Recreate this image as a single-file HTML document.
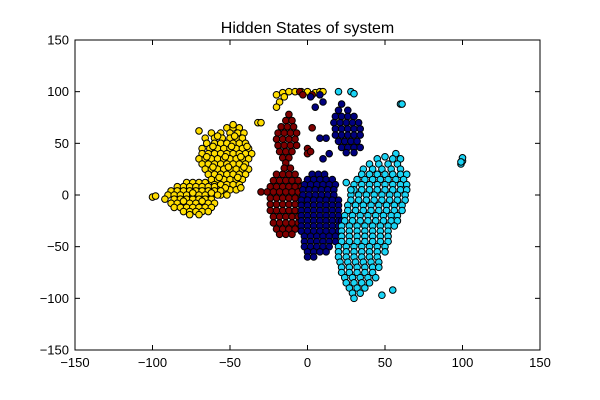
<!DOCTYPE html>
<html><head><meta charset="utf-8"><style>
html,body{margin:0;padding:0;background:#fff;}
svg{display:block;font-family:"Liberation Sans",sans-serif;}
</style></head><body>
<svg id="chart" width="600" height="400" viewBox="0 0 600 400">
<rect width="600" height="400" fill="#fff"/>
<text x="307.5" y="33" text-anchor="middle" font-size="16">Hidden States of system</text>
<g id="marks"></g>
<g id="axes"></g>
</svg>
<script>
const xTicks = [-150,-100,-50,0,50,100,150];
const yTicks = [-150,-100,-50,0,50,100,150];
// rows: [y, x1, x2, ...]
const yellowRows = [
[65,-52,-48,-44],[60,-62,-56,-50,-45,-41],[55,-66,-60,-55,-50,-46,-42],
[50,-65,-60,-56,-52,-48,-44,-40],[45,-68,-63,-58,-54,-50,-46,-42,-38],
[40,-68,-64,-60,-56,-52,-48,-44,-40,-36],[35,-70,-66,-62,-58,-54,-50,-46,-42,-38],
[30,-68,-64,-60,-56,-52,-48,-44,-40],[25,-66,-62,-58,-54,-50,-46,-42,-38],
[20,-64,-60,-56,-52,-48,-44,-40],[15,-62,-58,-54,-50,-46,-42],[10,-60,-56,-52,-48,-44],
[5,-58,-54,-50,-46],[0,-56,-52],
[57,-58,-47],[47,-61,-49,-39],[37,-65,-53,-43],[27,-61,-51,-41],[17,-57,-45],[7,-53,-43],
[12,-78,-74,-70,-66],[8,-84,-80,-76,-72,-68,-64,-60],[4,-88,-84,-80,-76,-72,-68,-64,-60,-56],
[0,-90,-86,-82,-78,-74,-70,-66,-62,-58],[-4,-92,-86,-82,-78,-74,-70,-66,-62],
[-8,-88,-84,-80,-76,-72,-68,-64,-60],[-12,-86,-82,-78,-74,-70,-66,-62],
[-16,-80,-76,-72,-68,-64],[-19,-76,-70],[-6,-80,-68],[2,-74,-62],
[-2,-100],[-1,-98],[70,-32,-30],[68,-48],[62,-70],
[97,-20],[99,-16,5],[100,-12,-8,-4,0,8,10],[90,-18],[85,-20],[95,-15]
];
const redRows = [
[78,-12],[72,-14,-10],[66,-17,-13,-9],[60,-19,-15,-11,-7],[54,-20,-16,-12,-8],
[48,-19,-15,-11,-7],[42,-18,-14,-10],[36,-16,-12],[31,-14],
[45,0],[40,0],[42,2],[65,3],[100,-5],[97,3,-3],
[26,-15,-11],[20,-20,-16,-12,-8],[14,-22,-18,-14,-10,-6],[8,-24,-20,-16,-12,-8,-4],
[3,-30,-26,-22,-18,-14,-10,-6],[-3,-24,-20,-16,-12,-8,-4],[-9,-24,-20,-16,-12,-8,-4],
[-15,-24,-20,-16,-12,-8,-4],[-21,-22,-18,-14,-10,-6],[-27,-22,-18,-14,-10,-6],
[-33,-20,-16,-12,-8],[-38,-18,-14,-10]
];
const navyRows = [
[20,3,7,11],[15,0,4,8,12,16],[10,-2,2,6,10,14,18],[5,-3,1,5,9,13,17],[0,-3,1,5,9,13,17],
[-5,-4,0,4,8,12,16,20],[-10,-4,0,4,8,12,16,20],[-15,-4,0,4,8,12,16,20],[-20,-4,0,4,8,12,16,20],
[-25,-4,0,4,8,12,16,20,22],[-30,-4,0,4,8,12,16,20],[-35,-4,0,4,8,12,16,20],[-40,-2,2,6,10,14,18],
[-45,-2,2,6,10,14,18],[-50,-2,2,6,10,14],[-55,0,4,8,12],[-60,0,4],
[88,22],[82,20,26],[76,18,22,26,30],[70,17,21,25,29,33],[64,18,22,26,30,34],[58,18,22,26,30,34],
[52,20,24,28,32],[46,22,26,30,34],[41,25,30],
[55,12,8],[40,14],[35,10],[85,5],[90,10],[95,2],[97,8]
];
const cyanRows = [
[40,57],[35,45,55,60],[30,40,46,52,58],[25,36,42,48,54,60],[20,35,40,45,50,55,60,64],
[15,32,37,42,47,52,57,62],[10,30,35,40,45,50,55,60,64],[5,30,35,40,45,50,55,60,64],
[0,28,33,38,43,48,53,58,63],[-5,28,33,38,43,48,53,58,63],[-10,26,31,36,41,46,51,56,61],
[-15,26,31,36,41,46,51,56,61],[-20,24,29,34,39,44,49,54,58],[-25,24,29,34,39,44,49,54,58],
[-30,22,27,32,37,42,47,52,56],[-35,22,27,32,37,42,47,52],[-40,22,27,32,37,42,47,52],
[-45,22,27,32,37,42,47,52],[-50,20,25,30,35,40,45,50],[-55,20,25,30,35,40,45,50],
[-60,20,25,30,35,40,45],[-65,21,26,31,36,41,46],[-70,22,27,32,37,42,46],[-75,22,27,32,37,42],
[-80,24,29,34,39,44],[-85,25,30,35,40],[-90,27,32,37],[-95,29,34],[-100,30],
[-97,48],[-92,55],[12,25],[5,28],[88,60,61],[30,99],[33,100],[36,100],[32,99],
[100,20,28],[98,30],[37,50]
];
const series = [
  {name:'yellow', rows:yellowRows, color:'#ffdd00'},
  {name:'dark-red', rows:redRows, color:'#7f0000'},
  {name:'navy', rows:navyRows, color:'#00007f'},
  {name:'cyan', rows:cyanRows, color:'#1ad4f5'}
];
const X0=75,X1=540,Y0=40,Y1=350;
function xs(v){return X0+(v+150)/300*(X1-X0);}
function ys(v){return Y1-(v+150)/300*(Y1-Y0);}
const NS='http://www.w3.org/2000/svg';
const marks=document.getElementById('marks');
series.forEach(s=>{
  const g=document.createElementNS(NS,'g');
  
  
  s.rows.forEach(r=>{
    for(let i=1;i<r.length;i++){
      const c=document.createElementNS(NS,'circle');
      c.setAttribute('cx',xs(r[i]));c.setAttribute('cy',ys(r[0]));
      c.setAttribute('r',3.3);c.setAttribute('fill',s.color);
      c.setAttribute('stroke','#000');c.setAttribute('stroke-width','1');
      
      
      g.appendChild(c);
    }
  });
  marks.appendChild(g);
});
const axes=document.getElementById('axes');
let h='<rect x="75" y="40" width="465" height="310" fill="none" stroke="#000" stroke-width="1"/>';
xTicks.forEach(t=>{const x=xs(t);
  h+=`<line x1="${x}" y1="350" x2="${x}" y2="345" stroke="#000"/><line x1="${x}" y1="40" x2="${x}" y2="45" stroke="#000"/>`;
  h+=`<text x="${x}" y="367" text-anchor="middle" font-size="13">${t<0?'\u2212'+(-t):t}</text>`;});
yTicks.forEach(t=>{const y=ys(t);
  h+=`<line x1="75" y1="${y}" x2="80" y2="${y}" stroke="#000"/><line x1="540" y1="${y}" x2="535" y2="${y}" stroke="#000"/>`;
  h+=`<text x="69" y="${y+4.5}" text-anchor="end" font-size="13">${t<0?'\u2212'+(-t):t}</text>`;});
axes.innerHTML=h;
</script>
</body></html>
